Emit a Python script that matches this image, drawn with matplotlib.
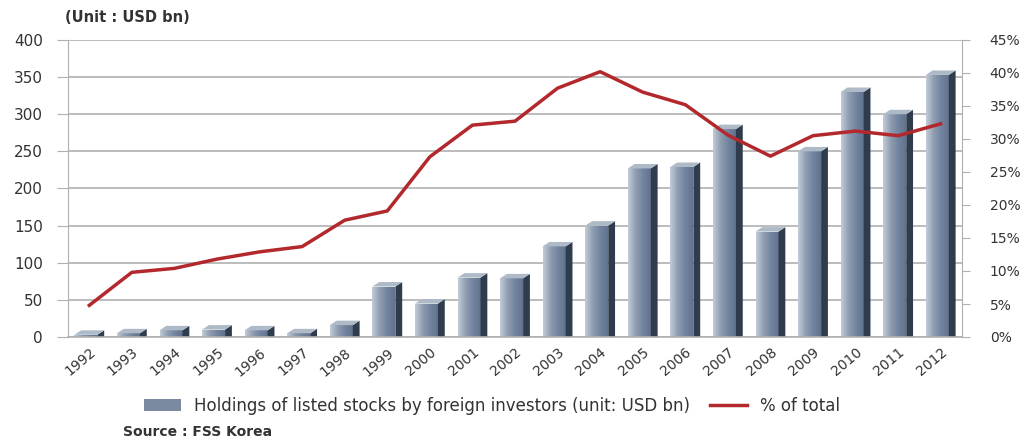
import matplotlib
matplotlib.use("Agg")
import matplotlib.pyplot as plt
import numpy as np
from matplotlib.patches import Rectangle, Polygon, Patch
from matplotlib.lines import Line2D
from matplotlib.colors import LinearSegmentedColormap
from matplotlib.ticker import PercentFormatter

anos = [str(a) for a in range(1992, 2013)]
participacao = [3, 5, 9, 10, 9, 5, 16, 68, 45, 80, 79, 122, 150,
                227, 229, 280, 142, 250, 330, 300, 353]
percentual = [4.8, 9.8, 10.4, 11.8, 12.9, 13.7, 17.7, 19.1, 27.3, 32.1, 32.7,
              37.7, 40.2, 37.1, 35.2, 30.6, 27.4, 30.5, 31.2, 30.5, 32.3]

cinza = '#b0b0b0'
vermelho = '#b3282d'
texto = '#333333'

plt.rcParams['font.family'] = 'DejaVu Sans'
fig = plt.figure(figsize=(10.29, 4.37), dpi=100)
ax = fig.add_axes([68 / 1029, 1 - 337 / 437, 894 / 1029, 297 / 437])
ax2 = ax.twinx()

x = np.arange(len(anos))
largura = 0.54
lado = 0.16
prof = 6

# gradiente da face frontal das barras
cmap = LinearSegmentedColormap.from_list('barra', ['#c2ccd8', '#8f9db0', '#7284a0', '#62738d'])
grad = np.linspace(0, 1, 64).reshape(1, -1)

for xi, v in zip(x, participacao):
    x0 = xi - (largura + lado) / 2
    frente = Rectangle((x0, 0), largura, v, facecolor='none', edgecolor='none')
    ax.add_patch(frente)
    im = ax.imshow(grad, cmap=cmap, aspect='auto', extent=(x0, x0 + largura, 0, v), zorder=2)
    im.set_clip_path(frente)
    # face lateral escura
    ax.add_patch(Polygon([(x0 + largura, 0), (x0 + largura + lado, 0),
                          (x0 + largura + lado, v + prof), (x0 + largura, v)],
                         closed=True, facecolor='#2e3c4e', edgecolor='none', zorder=2))
    # topo
    ax.add_patch(Polygon([(x0, v), (x0 + largura, v), (x0 + largura + lado, v + prof),
                          (x0 + lado, v + prof)],
                         closed=True, facecolor='#aebac8', edgecolor='none', zorder=2))

ax.set_xlim(-0.5, len(anos) - 0.5)
ax.set_ylim(0, 400)
ax.set_yticks(range(0, 401, 50))
ax.set_xticks(x)
ax.set_xticklabels(anos, rotation=40, ha='right', rotation_mode='anchor', fontsize=10, color=texto)
ax.tick_params(axis='x', length=0, pad=6)
ax.tick_params(axis='y', length=8, color=cinza, labelsize=11, colors=texto, pad=10)
ax.grid(axis='y', color=cinza, linewidth=1.2)
ax.set_axisbelow(True)
for s in ['top', 'right']:
    ax.spines[s].set_visible(False)
ax.spines['left'].set_color(cinza)
ax.spines['bottom'].set_color(cinza)
ax.spines['bottom'].set_linewidth(1.2)

ax2.plot(x, percentual, color=vermelho, linewidth=2.5, zorder=5)
ax2.set_ylim(0, 45)
ax2.set_yticks(range(0, 46, 5))
ax2.yaxis.set_major_formatter(PercentFormatter(decimals=0))
ax2.tick_params(axis='y', length=6, color=cinza, labelsize=10, colors=texto, pad=14)
for s in ['top', 'left', 'bottom']:
    ax2.spines[s].set_visible(False)
ax2.spines['right'].set_color(cinza)

fig.text(65 / 1029, 1 - 18 / 437, '(Unit : USD bn)', fontsize=10.5, fontweight='bold',
         color=texto, va='center')

handles = [Patch(facecolor='#7b8aa0', edgecolor='none'),
           Line2D([0], [0], color=vermelho, linewidth=2.5)]
fig.legend(handles, ['Holdings of listed stocks by foreign investors (unit: USD bn)', '% of total'],
           loc='center', bbox_to_anchor=(492 / 1029, 1 - 406 / 437), ncol=2, frameon=False,
           fontsize=12, handlelength=2.2, columnspacing=1.2, labelcolor=texto)

fig.text(123 / 1029, 1 - 432 / 437, 'Source : FSS Korea', fontsize=10, fontweight='bold',
         color=texto, va='center')

fig.savefig('out.png', dpi=100)
